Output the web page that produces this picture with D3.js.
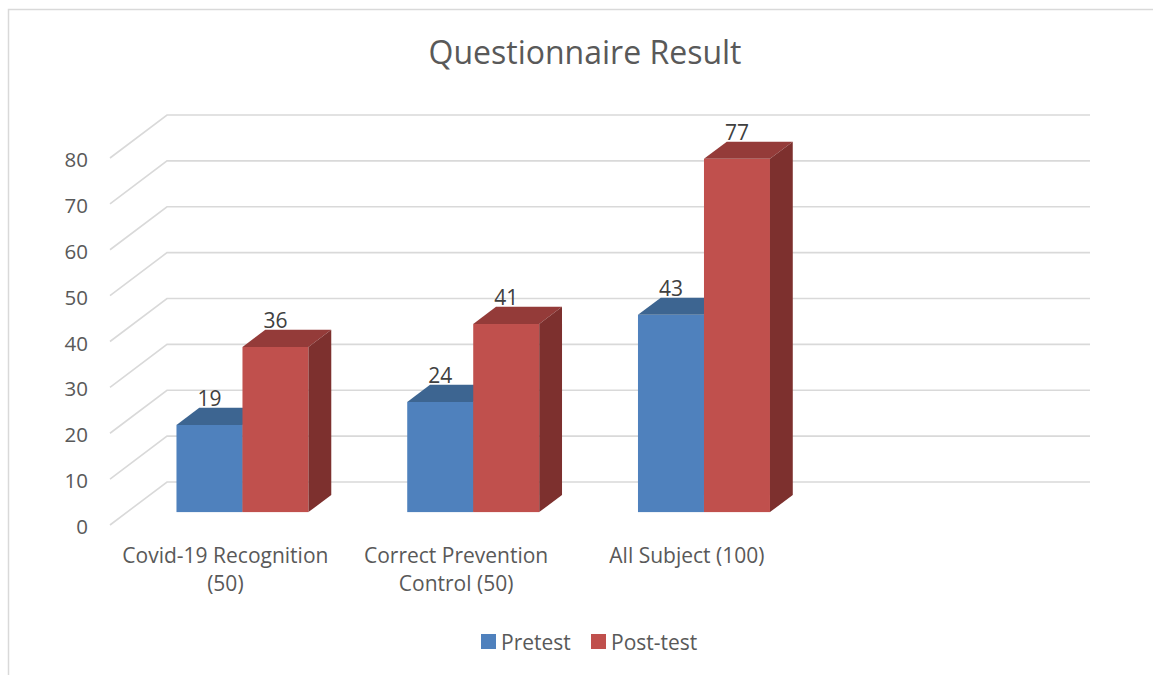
<!DOCTYPE html>
<html><head><meta charset="utf-8">
<script src="https://cdn.jsdelivr.net/npm/d3@7"></script>
<style>body{margin:0;background:#fff} text{font-family:"Open Sans","Noto Sans",sans-serif}</style>
</head><body><svg id="c" width="1153" height="675"></svg>
<script>
// ---- data ----
const title = "Questionnaire Result";
const categories = ["Covid-19 Recognition (50)", "Correct Prevention Control (50)", "All Subject (100)", ""];
const categoryLines = [["Covid-19 Recognition", "(50)"], ["Correct Prevention", "Control (50)"], ["All Subject (100)"], []];
const seriesNames = ["Pretest", "Post-test"];
const pretest = [19, 24, 43, null];
const posttest = [36, 41, 77, null];
const yTicks = [0, 10, 20, 30, 40, 50, 60, 70, 80];

// ---- styling / layout ----
const colors = {
  Pretest: {front: "#4f81bd", top: "#3d6591", side: "#375c87"},
  "Post-test": {front: "#c0504d", top: "#943b39", side: "#7d302e"}
};
const svg = d3.select("#c");
const W = 1153, H = 675;
const front = {x0: 110, x1: 1033, y0: 525, y1: 158};
const depth = [57, -43];          // full floor depth vector
const barD0 = 0.3, barD1 = 0.7;   // bar depth range (fraction)

const y = d3.scaleLinear().domain([0, 80]).range([front.y0, front.y1]);
const x0 = d3.scaleBand().domain(categories).range([front.x0, front.x1]).paddingInner(0).paddingOuter(0);

// border
svg.append("path").attr("d", `M8.5,${H} L8.5,9.5 L${W},9.5`).attr("fill", "none")
  .attr("stroke", "#d9d9d9").attr("stroke-width", 1.5);

// title
svg.append("text").attr("x", 585).attr("y", 64).attr("text-anchor", "middle")
  .attr("font-size", 32).attr("fill", "#595959").text(title);

// gridlines (walls)
const grid = svg.append("g");
yTicks.forEach(t => {
  const yf = y(t);
  grid.append("path")
    .attr("d", `M${front.x0},${yf} L${front.x0 + depth[0]},${yf + depth[1]} L${front.x1 + depth[0]},${yf + depth[1]}`)
    .attr("fill", "none").attr("stroke", "#d9d9d9").attr("stroke-width", 1.6);
});

// y labels
svg.append("g").selectAll("text").data(yTicks).join("text")
  .attr("x", 88).attr("y", d => y(d) + 9).attr("text-anchor", "end")
  .attr("font-size", 20.5).attr("fill", "#595959").text(d => d);

// bars
const seriesVals = [pretest, posttest];
const barsG = svg.append("g");
const labelsG = svg.append("g");
categories.forEach((c, i) => {
  const center = x0(c) + x0.bandwidth() / 2;
  const x1 = d3.scaleBand().domain(seriesNames).range([center - 66, center + 66]);
  seriesNames.forEach((s, k) => {
    const v = seriesVals[k][i];
    if (v == null) return;
    const fx = x1(s) + barD0 * depth[0], fw = x1.bandwidth();
    const fyB = y(0) + barD0 * depth[1], fyT = y(v) + barD0 * depth[1];
    const dx = (barD1 - barD0) * depth[0], dy = (barD1 - barD0) * depth[1];
    const col = colors[s];
    barsG.append("rect").attr("x", fx).attr("y", fyT).attr("width", fw).attr("height", fyB - fyT).attr("fill", col.front);
    barsG.append("path").attr("d", `M${fx},${fyT} L${fx + fw},${fyT} L${fx + fw + dx},${fyT + dy} L${fx + dx},${fyT + dy} Z`).attr("fill", col.top);
    barsG.append("path").attr("d", `M${fx + fw},${fyT} L${fx + fw + dx},${fyT + dy} L${fx + fw + dx},${fyB + dy} L${fx + fw},${fyB} Z`).attr("fill", col.side);
    labelsG.append("text").attr("x", fx + fw / 2).attr("y", fyT + dy - 2).attr("text-anchor", "middle")
      .attr("font-size", 21).attr("fill", "#404040").text(v);
  });
  // category labels
  const t = svg.append("text").attr("text-anchor", "middle").attr("font-size", 21).attr("fill", "#595959");
  categoryLines[i].forEach((ln, j) => {
    t.append("tspan").attr("x", center).attr("y", 563 + j * 28).text(ln);
  });
});

// legend
const leg = svg.append("g");
const legX = [481, 591];
seriesNames.forEach((s, k) => {
  leg.append("rect").attr("x", legX[k]).attr("y", 634).attr("width", 15).attr("height", 15).attr("fill", colors[s].front);
  leg.append("text").attr("x", legX[k] + 20).attr("y", 650).attr("font-size", 21).attr("fill", "#595959").text(s);
});
</script>
</body></html>
